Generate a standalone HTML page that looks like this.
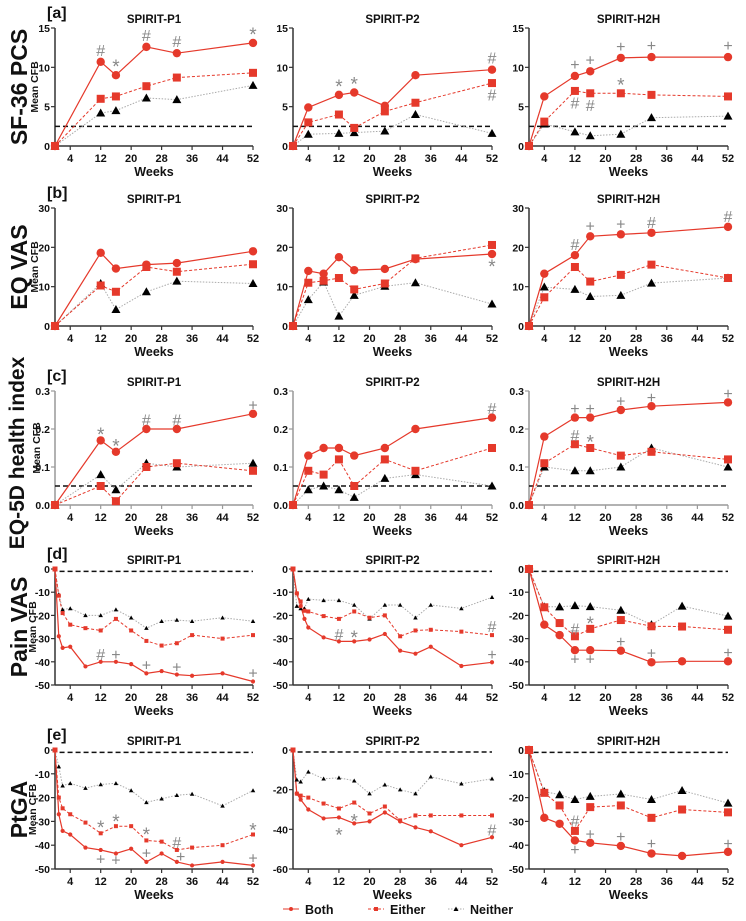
<!DOCTYPE html>
<html><head><meta charset="utf-8">
<style>
html,body{margin:0;padding:0;background:#fff;}
svg{display:block;font-family:"Liberation Sans",sans-serif;}
</style></head>
<body>
<svg id="chart" width="746" height="921" viewBox="0 0 746 921" xmlns="http://www.w3.org/2000/svg"></svg>
<script>
// ---- data arrays ----
const aP1Weeks=[0,12,16,24,32,52];
const aP1Both=[0,10.7,9,12.6,11.8,13.1];
const aP1Either=[0,6,6.3,7.6,8.7,9.3];
const aP1Neither=[0,4.2,4.5,6.1,5.9,7.7];
const aP2Weeks=[0,4,12,16,24,32,52];
const aP2Both=[0,4.9,6.5,6.8,5.1,9,9.7];
const aP2Either=[0,3,4,2.3,4.4,5.5,8];
const aP2Neither=[0,1.5,1.6,1.7,1.9,4,1.6];
const aH2HWeeks=[0,4,12,16,24,32,52];
const aH2HBoth=[0,6.3,8.9,9.5,11.2,11.3,11.3];
const aH2HEither=[0,3.1,7,6.7,6.7,6.5,6.3];
const aH2HNeither=[0,2.8,1.8,1.3,1.5,3.6,3.8];

const bP1Weeks=[0,12,16,24,32,52];
const bP1Both=[0,18.6,14.6,15.6,16,19];
const bP1Either=[0,10.3,8.7,15,13.8,15.7];
const bP1Neither=[0,10.8,4.2,8.7,11.4,10.8];
const bP2Weeks=[0,4,8,12,16,24,32,52];
const bP2Both=[0,14,13.3,17.5,14.2,14.5,17,18.3];
const bP2Either=[0,11,11.5,12.2,9.3,10.8,17.2,20.6];
const bP2Neither=[0,6.7,11.2,2.5,7.8,10.1,11,5.6];
const bH2HWeeks=[0,4,12,16,24,32,52];
const bH2HBoth=[0,13.3,18,22.8,23.3,23.7,25.2];
const bH2HEither=[0,7.3,15,11.3,13,15.6,12.2];
const bH2HNeither=[0,9.9,9.3,7.5,7.8,10.9,12.2];

const cP1Weeks=[0,12,16,24,32,52];
const cP1Both=[0,0.17,0.14,0.2,0.2,0.24];
const cP1Either=[0,0.05,0.01,0.1,0.11,0.09];
const cP1Neither=[0,0.08,0.04,0.11,0.1,0.11];
const cP2Weeks=[0,4,8,12,16,24,32,52];
const cP2Both=[0,0.13,0.15,0.15,0.13,0.15,0.2,0.23];
const cP2Either=[0,0.09,0.08,0.12,0.05,0.12,0.09,0.15];
const cP2Neither=[0,0.04,0.05,0.04,0.02,0.07,0.08,0.05];
const cH2HWeeks=[0,4,12,16,24,32,52];
const cH2HBoth=[0,0.18,0.23,0.23,0.25,0.26,0.27];
const cH2HEither=[0,0.11,0.16,0.15,0.13,0.14,0.12];
const cH2HNeither=[0,0.1,0.09,0.09,0.1,0.15,0.1];

const dP1Weeks=[0,1,2,4,8,12,16,20,24,28,32,36,44,52];
const dP1Both=[0,-29,-34,-33.5,-42,-40,-40,-41,-45,-44,-45.5,-46,-45,-48.5];
const dP1Either=[0,-11.5,-19,-24,-25.5,-26.5,-21.5,-26.5,-31,-33,-32,-28.5,-30,-28.5];
const dP1Neither=[0,-11,-17.5,-17,-20,-20,-17.5,-21,-25.5,-22.5,-22,-22.5,-21,-22.5];
const dP2Weeks=[0,1,2,3,4,8,12,16,20,24,28,32,36,44,52];
const dP2Both=[0,-10.5,-16,-21.5,-25.2,-29.5,-31.2,-31.2,-30.4,-28,-35.2,-36.5,-33.5,-41.8,-40.2];
const dP2Either=[0,-10.5,-14,-18,-18.3,-20.3,-21.5,-18.3,-21,-20,-29,-26.5,-26.2,-27,-28.5];
const dP2Neither=[0,-16,-17,-17,-13,-13.5,-13.5,-15.5,-21.5,-15.5,-15.5,-21,-15.5,-17,-12.2];
const dH2HWeeks=[0,4,8,12,16,24,32,40,52];
const dH2HBoth=[0,-24,-28.5,-35,-35,-35.2,-40.2,-39.8,-39.8];
const dH2HEither=[0,-16.5,-23.3,-29,-25.8,-22,-24.7,-24.8,-26.2];
const dH2HNeither=[0,-16.3,-16.3,-15.8,-16.2,-17.8,-24,-16,-20.3];

const eP1Weeks=[0,1,2,4,8,12,16,20,24,28,32,36,44,52];
const eP1Both=[0,-27,-34,-35.5,-41,-42,-43.5,-41.5,-47,-43.5,-47,-48.5,-47,-48.5];
const eP1Either=[0,-20,-24.5,-27,-30.5,-35,-32,-32,-38,-38.5,-42,-41,-40,-35.5];
const eP1Neither=[0,-7,-15,-14,-16,-14.5,-14,-17,-22,-20.5,-19,-18.5,-23.5,-17];
const eP2Weeks=[0,1,2,4,8,12,16,20,24,28,32,36,44,52];
const eP2Both=[0,-22,-25,-30,-34.5,-34,-37,-36,-31.5,-36,-39,-41,-48,-44];
const eP2Either=[0,-22,-23,-24,-27,-29.5,-26.5,-32,-28.5,-35.5,-33,-33,-33,-33];
const eP2Neither=[0,-15,-16,-11,-14.5,-14,-15.5,-22,-17.5,-20,-22,-13.5,-17,-14.5];
const eH2HWeeks=[0,4,8,12,16,24,32,40,52];
const eH2HBoth=[0,-28.5,-31,-38,-39,-40.3,-43.5,-44.5,-42.8];
const eH2HEither=[0,-18,-23.3,-34,-24,-23.3,-28.5,-25,-26.2];
const eH2HNeither=[0,-17.5,-18.8,-20.8,-19.5,-18.5,-20.8,-17,-22.3];

const xTickLabels=[4,12,20,28,36,44,52];
const colTitles=["SPIRIT-P1","SPIRIT-P2","SPIRIT-H2H"];
const rowLabels=["SF-36 PCS","EQ VAS","EQ-5D health index","Pain VAS","PtGA"];
const panelLetters=["[a]","[b]","[c]","[d]","[e]"];
const yTicksA=[0,5,10,15];
const yTicksB=[0,10,20,30];
const yTicksC=[0,0.1,0.2,0.3];
const yTicksD=[0,-10,-20,-30,-40,-50];
const yTicksE=[0,-10,-20,-30,-40,-50];
const yTicksEP2=[0,-20,-40,-60];
const refLines=[2.5,null,0.05,-1,-1];
// annotations: [week, value, symbol]
const annA=[[[12,12.1,"#"],[16,10.4,"*"],[24,14,"#"],[32,13.2,"#"],[52,14.5,"*"]],
 [[12,7.9,"*"],[16,8.2,"*"],[52,11.1,"#"],[52,6.4,"#"]],
 [[12,10.3,"+"],[16,10.9,"+"],[24,12.6,"+"],[32,12.7,"+"],[52,12.7,"+"],[12,5.4,"#"],[16,5.1,"#"],[24,8.1,"*"]]];
const annB=[[],[[52,15.8,"*"]],[[12,20.6,"#"],[16,25.3,"+"],[24,25.8,"+"],[32,26.2,"#"],[52,27.7,"#"]]];
const annC=[[[12,0.192,"*"],[16,0.162,"*"],[24,0.222,"#"],[32,0.222,"#"],[52,0.262,"+"]],
 [[52,0.252,"#"]],
 [[12,0.252,"+"],[16,0.252,"+"],[24,0.272,"+"],[32,0.282,"+"],[52,0.292,"+"],[12,0.182,"#"],[16,0.172,"*"]]];
const annD=[[[12,-37,"#"],[16,-37,"+"],[24,-41.5,"+"],[32,-42.5,"+"],[52,-45,"+"]],
 [[12,-28.5,"#"],[16,-28.5,"*"],[52,-25,"#"],[52,-37,"+"]],
 [[12,-26,"#"],[16,-22.5,"*"],[12,-39,"+"],[16,-39,"+"],[24,-31.5,"+"],[32,-36.5,"+"],[52,-36.3,"+"]]];
const annE=[[[12,-31.5,"*"],[16,-29,"*"],[24,-34.5,"*"],[32,-39,"#"],[52,-32.5,"*"],[12,-46,"+"],[16,-46.5,"+"],[24,-43.5,"+"],[33,-45,"+"],[52,-45.5,"+"]],
 [[12,-41.5,"*"],[16,-34.5,"*"],[52,-40.5,"#"]],
 [[12,-30,"#"],[12,-42,"+"],[16,-35.5,"+"],[24,-36.5,"+"],[32,-39.5,"+"],[52,-39.5,"+"]]];

// ---- geometry ----
const colX0=[55,293,529], colX52=[253,492,728];
const rows=[
 {top:28,bot:146,min:0,max:15,ticks:[yTicksA,yTicksA,yTicksA],fmt:v=>String(v),ann:annA,axis:"#333",
  series:[[aP1Weeks,aP1Both,aP1Either,aP1Neither],[aP2Weeks,aP2Both,aP2Either,aP2Neither],[aH2HWeeks,aH2HBoth,aH2HEither,aH2HNeither]],big:[1,1,1]},
 {top:208,bot:326,min:0,max:30,ticks:[yTicksB,yTicksB,yTicksB],fmt:v=>String(v),ann:annB,axis:"#333",
  series:[[bP1Weeks,bP1Both,bP1Either,bP1Neither],[bP2Weeks,bP2Both,bP2Either,bP2Neither],[bH2HWeeks,bH2HBoth,bH2HEither,bH2HNeither]],big:[1,1,1]},
 {top:391,bot:505,min:0,max:0.3,ticks:[yTicksC,yTicksC,yTicksC],fmt:v=>v.toFixed(1),ann:annC,axis:"#999",
  series:[[cP1Weeks,cP1Both,cP1Either,cP1Neither],[cP2Weeks,cP2Both,cP2Either,cP2Neither],[cH2HWeeks,cH2HBoth,cH2HEither,cH2HNeither]],big:[1,1,1]},
 {top:569,bot:685,min:-50,max:0,ticks:[yTicksD,yTicksD,yTicksD],fmt:v=>String(v),ann:annD,axis:"#333",
  series:[[dP1Weeks,dP1Both,dP1Either,dP1Neither],[dP2Weeks,dP2Both,dP2Either,dP2Neither],[dH2HWeeks,dH2HBoth,dH2HEither,dH2HNeither]],big:[0,0,1]},
 {top:750,bot:869,min:-50,max:0,ticks:[yTicksE,yTicksEP2,yTicksE],fmt:v=>String(v),ann:annE,axis:"#333",
  series:[[eP1Weeks,eP1Both,eP1Either,eP1Neither],[eP2Weeks,eP2Both,eP2Either,eP2Neither],[eH2HWeeks,eH2HBoth,eH2HEither,eH2HNeither]],big:[0,0,1]}
];
const RED="#e5392b", GRAY="#aaa";
const svg=document.getElementById('chart');
const NS="http://www.w3.org/2000/svg";
function el(tag,attrs,parent){const e=document.createElementNS(NS,tag);for(const k in attrs)e.setAttribute(k,attrs[k]);(parent||svg).appendChild(e);return e;}
function txt(s,attrs,parent){const t=el('text',attrs,parent);t.textContent=s;return t;}

rows.forEach((r,ri)=>{
  const cy=(r.top+r.bot)/2;
  const rl=txt(rowLabels[ri],{x:0,y:0,transform:`translate(${ri===2?24:27},${cy+(ri===2?5:0)}) rotate(-90)`,'text-anchor':'middle','font-size':ri===2?21:23,'font-weight':'bold',fill:'#111'});
  
  
  const pl=txt(panelLetters[ri],{x:47,y:r.top-10,'font-size':16,'font-weight':'bold',fill:'#111'});
  
  
  for(let ci=0;ci<3;ci++){
    const g=el('g',{});
    
    
    const x0=colX0[ci],x52=colX52[ci];
    const ticks=r.ticks[ci];
    const ymin=(ri===4&&ci===1)?-60:r.min, ymax=r.max;
    const X=w=>x0+(x52-x0)*w/52;
    const Y=v=>r.bot-(r.bot-r.top)*(v-ymin)/(ymax-ymin);
    const t=txt(colTitles[ci],{x:(x0+x52)/2,y:r.top-5,'text-anchor':'middle','font-size':11.5,'font-weight':'bold',fill:'#111'},g);
    
    
    const ya=el('line',{x1:x0,y1:r.top,x2:x0,y2:r.bot,stroke:r.axis,'stroke-width':1.5},g);
    
    
    const xa=el('line',{x1:x0,y1:r.bot,x2:x52,y2:r.bot,stroke:r.axis,'stroke-width':1.5},g);
    
    
    if(ci===0){
      const mc=txt("Mean CFB",{x:0,y:0,transform:`translate(${ri>=3?36:ri===2?40:38},${cy}) rotate(-90)`,'text-anchor':'middle','font-size':10.5,'font-weight':'bold',fill:'#111'},g);
      
      
    }
    ticks.forEach(v=>{
      const yy=Y(v);
      el('line',{x1:x0-4,y1:yy,x2:x0,y2:yy,stroke:r.axis,'stroke-width':1.2},g);
      const tl=txt(r.fmt(v),{x:x0-5,y:yy+4,'text-anchor':'end','font-size':10.5,'font-weight':'bold',fill:'#111'},g);
      
      
    });
    xTickLabels.forEach(w=>{
      const xx=X(w);
      el('line',{x1:xx,y1:r.bot,x2:xx,y2:r.bot+4,stroke:r.axis,'stroke-width':1.2},g);
      const tl=txt(String(w),{x:xx,y:r.bot+16,'text-anchor':'middle','font-size':11,'font-weight':'bold',fill:'#111'},g);
      
      
    });
    const wk=txt("Weeks",{x:(x0+x52)/2,y:r.bot+30,'text-anchor':'middle','font-size':12.5,'font-weight':'bold',fill:'#111'},g);
    
    
    if(refLines[ri]!==null){
      const ry=Y(refLines[ri]);
      const rf=el('line',{x1:X(ri>=3?1.2:0),y1:ry,x2:x52,y2:ry,stroke:'#111','stroke-width':1.5,'stroke-dasharray':'5,3'},g);
      
      
    }
    const [wks,both,either,neither]=r.series[ci];
    const big=r.big[ci];
    function path(vals){return wks.map((w,i)=>(i?'L':'M')+X(w).toFixed(1)+','+Y(vals[i]).toFixed(1)).join(' ');}
    const ln=el('path',{d:path(neither),fill:'none',stroke:GRAY,'stroke-width':1,'stroke-dasharray':'1.5,1.5'},g);
    
    
    const le=el('path',{d:path(either),fill:'none',stroke:RED,'stroke-width':1,'stroke-dasharray':'3,2'},g);
    
    
    const lb=el('path',{d:path(both),fill:'none',stroke:RED,'stroke-width':1.2},g);
    
    
    const s=big?1:0.5;
    wks.forEach((w,i)=>{
      if(i===0&&!big) return;
      const xx=X(w);
      let yy=Y(neither[i]);
      const tri=el('path',{d:`M${xx},${yy-4.5*s} L${xx+4.5*s},${yy+3.5*s} L${xx-4.5*s},${yy+3.5*s}Z`,fill:'#000'},g);
      
      
      yy=Y(either[i]);
      const sq=el('rect',{x:xx-4*s,y:yy-4*s,width:8*s,height:8*s,fill:RED},g);
      
      
      yy=Y(both[i]);
      const c=el('circle',{cx:xx,cy:yy,r:4.2*s,fill:RED},g);
      
      
    });
    if(!big){
      const sq0=el('rect',{x:X(0)-2.5,y:Y(0)-2.5,width:5,height:5,fill:RED},g);
      
      
    }
    r.ann[ci].forEach(a=>{
      const an=txt(a[2],{x:X(a[0]),y:Y(a[1])+(a[2]==='*'?9:5),'text-anchor':'middle','font-size':a[2]==='*'?19:16,fill:'#888'},g);
      
      
    });
  }
});
const lg=el('g',{});


const legendLabels=["Both","Either","Neither"];
const legX=[283,368,448];
legendLabels.forEach((lab,i)=>{
  const g=el('g',{},lg);
  
  
  const x=legX[i],y=909;
  el('line',{x1:x,y1:y,x2:x+16,y2:y,stroke:i===2?GRAY:RED,'stroke-width':1,'stroke-dasharray':i===0?'none':(i===1?'3,2':'1.5,1.5')},g);
  if(i===0) el('circle',{cx:x+8,cy:y,r:2,fill:RED},g);
  if(i===1) el('rect',{x:x+6,y:y-2,width:4,height:4,fill:RED},g);
  if(i===2) el('path',{d:`M${x+8},${y-2.5} L${x+10.5},${y+2} L${x+5.5},${y+2}Z`,fill:'#000'},g);
  txt(lab,{x:x+22,y:y+5,'font-size':12.5,'font-weight':'bold',fill:'#111'},g);
});
</script>
</body></html>
